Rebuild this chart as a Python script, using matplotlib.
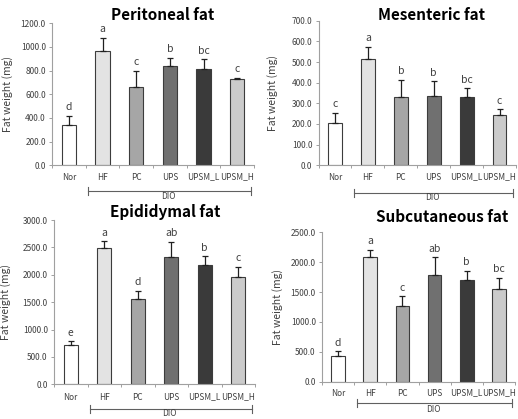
import matplotlib
matplotlib.use("Agg")
import matplotlib.pyplot as plt
from matplotlib import transforms
from matplotlib.ticker import FormatStrFormatter, MultipleLocator

plt.rcParams['font.family'] = ['Noto Sans CJK KR', 'DejaVu Sans']

groups = ["Nor", "HF", "PC", "UPS", "UPSM_L", "UPSM_H"]
bar_colors = ["#ffffff", "#e3e3e3", "#a6a6a6", "#707070", "#3a3a3a", "#cbcbcb"]

peritoneal_mean = [340, 970, 660, 840, 815, 730]
peritoneal_err = [80, 110, 140, 70, 80, 10]
peritoneal_sig = ["d", "a", "c", "b", "bc", "c"]

mesenteric_mean = [205, 515, 330, 335, 330, 242]
mesenteric_err = [50, 60, 85, 73, 42, 30]
mesenteric_sig = ["c", "a", "b", "b", "bc", "c"]

epididymal_mean = [720, 2480, 1550, 2320, 2170, 1960]
epididymal_err = [70, 130, 160, 280, 170, 190]
epididymal_sig = ["e", "a", "d", "ab", "b", "c"]

subcutaneous_mean = [430, 2090, 1270, 1790, 1700, 1550]
subcutaneous_err = [80, 120, 160, 290, 160, 190]
subcutaneous_sig = ["d", "a", "c", "ab", "b", "bc"]

W, H = 518, 419
fig = plt.figure(figsize=(W / 100, H / 100), dpi=100)

def fy(py):
    return 1 - py / H

def panel(rect, title, title_xy, means, errs, sigs, ymax, ystep,
          label_y, bracket_y, dio_y, ylabel_x):
    left, bottom, right, top = rect
    ax = fig.add_axes([left / W, fy(bottom), (right - left) / W, (bottom - top) / H])
    x = list(range(len(groups)))
    ax.bar(x, means, width=0.42, color=bar_colors, edgecolor="#3c3c3c",
           linewidth=0.8, zorder=2)
    ax.errorbar(x, means, yerr=[[0] * len(errs), errs], fmt="none",
                ecolor="#202020", elinewidth=0.9, capsize=2.2, capthick=0.9, zorder=3)
    for xi, m, e, s in zip(x, means, errs, sigs):
        ax.annotate(s, (xi, m + e), xytext=(0, 2.5), textcoords="offset points",
                    ha="center", va="bottom", fontsize=7.5, color="#404040")
    ax.set_xlim(-0.5, len(groups) - 0.5)
    ax.set_ylim(0, ymax)
    ax.yaxis.set_major_locator(MultipleLocator(ystep))
    ax.yaxis.set_major_formatter(FormatStrFormatter("%.1f"))
    for sp in ["top", "right"]:
        ax.spines[sp].set_visible(False)
    for sp in ["left", "bottom"]:
        ax.spines[sp].set_color("#a0a0a0")
        ax.spines[sp].set_linewidth(0.8)
    ax.tick_params(axis="y", length=2.5, width=0.7, color="#a0a0a0",
                   labelsize=6, labelcolor="#404040", pad=2)
    ax.set_xticks([i - 0.5 for i in range(len(groups) + 1)])
    ax.set_xticklabels([])
    ax.tick_params(axis="x", length=2.5, width=0.7, color="#a0a0a0")
    tr = transforms.blended_transform_factory(ax.transData, fig.transFigure)
    for xi, g in zip(x, groups):
        ax.text(xi, fy(label_y), g, transform=tr, ha="center", va="center",
                fontsize=6, color="#404040", clip_on=False)
    x0, x1 = 0.58, 5.42
    tick = 4 / H
    ax.plot([x0, x1], [fy(bracket_y)] * 2, transform=tr, color="#606060",
            lw=0.8, clip_on=False)
    for xe in (x0, x1):
        ax.plot([xe, xe], [fy(bracket_y) - tick, fy(bracket_y) + tick], transform=tr,
                color="#606060", lw=0.8, clip_on=False)
    ax.text(2.95, fy(dio_y), "DIO", transform=tr, ha="center", va="center",
            fontsize=6, color="#404040", clip_on=False)
    fig.text(ylabel_x / W, fy((bottom + top) / 2), "Fat weight (mg)", rotation=90,
             ha="center", va="center", fontsize=7.5, color="#404040")
    fig.text(title_xy[0] / W, fy(title_xy[1]), title, ha="center", va="center",
             fontsize=11, fontweight="bold", color="#000000")
    return ax

panel((52, 165.3, 254, 23.3), "Peritoneal fat", (163, 15),
      peritoneal_mean, peritoneal_err, peritoneal_sig, 1200, 200,
      177, 191, 196.5, 8)
panel((318.5, 165.3, 516, 20.7), "Mesenteric fat", (432, 15),
      mesenteric_mean, mesenteric_err, mesenteric_sig, 700, 100,
      177, 193, 197.5, 273)
panel((54, 384.3, 255, 220), "Epididymal fat", (165, 212),
      epididymal_mean, epididymal_err, epididymal_sig, 3000, 500,
      397, 409, 413.5, 6)
panel((322, 381.7, 515, 232.3), "Subcutaneous fat", (442, 217),
      subcutaneous_mean, subcutaneous_err, subcutaneous_sig, 2500, 500,
      393, 403, 409, 278)

fig.savefig("out.png", dpi=100)
